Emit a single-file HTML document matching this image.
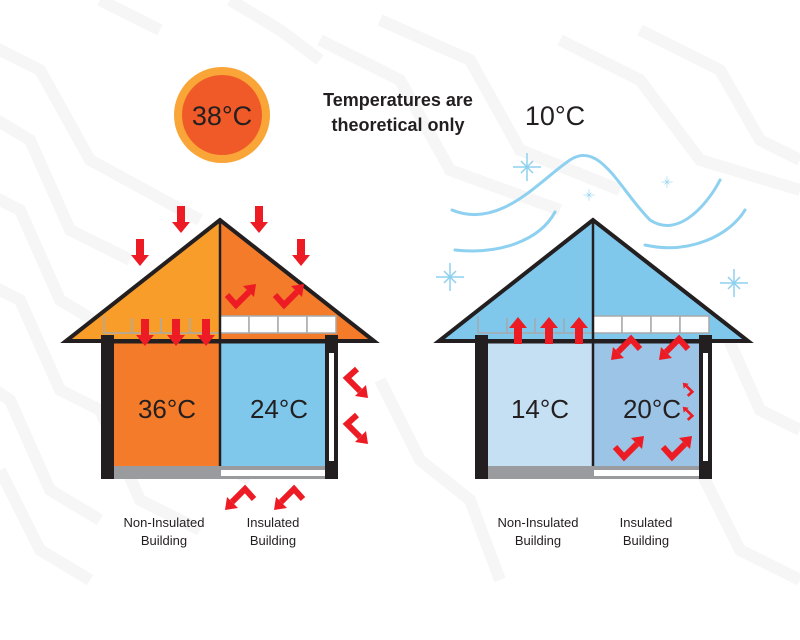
<!DOCTYPE html>
<html><head><meta charset="utf-8"><style>
html,body{margin:0;padding:0;background:#fff}
svg{display:block}
text{font-family:"Liberation Sans",sans-serif}
</style></head><body>
<svg width="800" height="640" viewBox="0 0 800 640" xmlns="http://www.w3.org/2000/svg">
<defs>
<g id="down"><path d="M-4,-16 H4 V0 H9 L0,11 L-9,0 H-4 Z" fill="#ED1C24"/></g>
<g id="up"><path d="M-4,16 H4 V0 H9 L0,-11 L-9,0 H-4 Z" fill="#ED1C24"/></g>
<g id="bent"><polyline points="-13,-5 -4,5 9,-8" fill="none" stroke="#ED1C24" stroke-width="6"/><path d="M3,-14 L16,-16 L14,-3 Z" fill="#ED1C24"/></g>
<g id="spark" stroke="#8ED0F0" stroke-width="1.5"><line x1="-14" y1="0" x2="14" y2="0"/><line x1="0" y1="-14" x2="0" y2="14"/><line x1="-6" y1="-6" x2="6" y2="6"/><line x1="-6" y1="6" x2="6" y2="-6"/></g>
</defs>
<rect width="800" height="640" fill="#fff"/>
<g fill="none" stroke="#f6f6f6" stroke-width="12">
<polyline points="-20,40 40,70 90,160 200,220"/>
<polyline points="-20,110 30,140 70,230 130,260"/>
<polyline points="-20,190 20,210 60,300 110,330 150,420 250,480"/>
<polyline points="-20,280 20,300 60,390 100,410 140,500 200,530"/>
<polyline points="-20,380 10,400 50,490 100,520"/>
<polyline points="320,40 400,80 450,170 560,210"/>
<polyline points="380,20 470,60 520,150 620,190"/>
<polyline points="560,40 640,80 700,160 800,190"/>
<polyline points="640,30 720,70 760,140 800,160"/>
<polyline points="0,470 40,550 90,580"/>
<polyline points="720,320 760,410 800,430"/>
<polyline points="700,470 740,550 800,580"/>
<polyline points="380,380 420,460 470,500 500,580"/>
<polyline points="230,0 280,30 320,60"/>
<polyline points="100,0 160,30"/>
</g>
<rect x="0" y="590" width="800" height="50" fill="#fff"/>

<!-- Sun -->
<circle cx="222" cy="115" r="48" fill="#F9A537"/>
<circle cx="222" cy="115" r="40" fill="#F05A28"/>
<text x="222" y="125" font-size="27" text-anchor="middle" fill="#231F20">38°C</text>
<text x="398" y="106" font-size="18" font-weight="bold" text-anchor="middle" fill="#231F20">Temperatures are</text>
<text x="398" y="131" font-size="18" font-weight="bold" text-anchor="middle" fill="#231F20">theoretical only</text>
<text x="555" y="125" font-size="27" text-anchor="middle" fill="#231F20">10°C</text>

<!-- LEFT HOUSE -->
<polygon points="220,220 66,341 220,341" fill="#F99D2A"/>
<polygon points="220,220 374,341 220,341" fill="#F47B2A"/>
<rect x="114" y="342" width="106" height="124" fill="#F47B2A"/>
<rect x="220" y="342" width="105" height="124" fill="#7FC8EC"/>
<g fill="none" stroke="#A7A9AC" stroke-width="1.5">
<polyline points="104,316 104,333 220,333"/>
<line x1="132" y1="318" x2="132" y2="333"/><line x1="161" y1="318" x2="161" y2="333"/><line x1="190" y1="318" x2="190" y2="333"/>
</g>
<g fill="#fff" stroke="#A7A9AC" stroke-width="1.5">
<rect x="220" y="316" width="29" height="17"/><rect x="249" y="316" width="29" height="17"/><rect x="278" y="316" width="29" height="17"/><rect x="307" y="316" width="29" height="17"/>
</g>
<polygon points="220,220 66,341 374,341" fill="none" stroke="#231F20" stroke-width="4"/>
<line x1="220" y1="220" x2="220" y2="466" stroke="#231F20" stroke-width="2.5"/>
<line x1="101" y1="342" x2="338" y2="342" stroke="#231F20" stroke-width="3"/>
<rect x="101" y="335" width="13" height="144" fill="#231F20"/>
<rect x="325" y="335" width="13" height="144" fill="#231F20"/>
<rect x="329" y="353" width="5" height="108" fill="#fff"/>
<rect x="114" y="466" width="211" height="13" fill="#999B9E"/>
<rect x="221" y="470" width="104" height="6" fill="#fff"/>
<text x="167" y="418" font-size="26" text-anchor="middle" fill="#231F20">36°C</text>
<text x="279" y="418" font-size="26" text-anchor="middle" fill="#231F20">24°C</text>
<use href="#down" x="181" y="222"/><use href="#down" x="259" y="222"/>
<use href="#down" x="140" y="255"/><use href="#down" x="301" y="255"/>
<use href="#down" x="145" y="335"/><use href="#down" x="176" y="335"/><use href="#down" x="206" y="335"/>
<use href="#bent" x="240" y="300"/><use href="#bent" x="288" y="300"/>
<use href="#bent" transform="translate(352,382) rotate(90)"/>
<use href="#bent" transform="translate(352,428) rotate(90)"/>
<use href="#bent" transform="translate(241,494) scale(-1,-1)"/>
<use href="#bent" transform="translate(290,494) scale(-1,-1)"/>
<text x="164" y="527" font-size="13" text-anchor="middle" fill="#231F20">Non-Insulated</text>
<text x="164" y="545" font-size="13" text-anchor="middle" fill="#231F20">Building</text>
<text x="273" y="527" font-size="13" text-anchor="middle" fill="#231F20">Insulated</text>
<text x="273" y="545" font-size="13" text-anchor="middle" fill="#231F20">Building</text>

<!-- RIGHT HOUSE -->
<g fill="none" stroke="#8ED0F0" stroke-width="3" stroke-linecap="round">
<path d="M452,210 C500,230 540,180 570,160 C600,140 620,190 650,220 C680,240 710,200 720,180"/>
<path d="M455,250 C500,255 540,240 555,212"/>
<path d="M645,245 C690,255 730,235 745,210"/>
</g>
<use href="#spark" x="527" y="167"/><use href="#spark" x="450" y="277"/>
<use href="#spark" x="734" y="283"/>
<g transform="translate(589,195) scale(0.4)"><use href="#spark"/></g>
<g transform="translate(667,182) scale(0.4)"><use href="#spark"/></g>
<polygon points="593,220 439,341 748,341" fill="#7FC8EC"/>
<rect x="488" y="342" width="105" height="124" fill="#C5DFF3"/>
<rect x="593" y="342" width="106" height="124" fill="#9CC4E6"/>
<g fill="none" stroke="#A7A9AC" stroke-width="1.5">
<polyline points="478,316 478,333 593,333"/>
<line x1="507" y1="318" x2="507" y2="333"/><line x1="535" y1="318" x2="535" y2="333"/><line x1="564" y1="318" x2="564" y2="333"/>
</g>
<g fill="#fff" stroke="#A7A9AC" stroke-width="1.5">
<rect x="593" y="316" width="29" height="17"/><rect x="622" y="316" width="29" height="17"/><rect x="651" y="316" width="29" height="17"/><rect x="680" y="316" width="29" height="17"/>
</g>
<polygon points="593,220 439,341 748,341" fill="none" stroke="#231F20" stroke-width="4"/>
<line x1="593" y1="220" x2="593" y2="466" stroke="#231F20" stroke-width="2.5"/>
<line x1="475" y1="342" x2="712" y2="342" stroke="#231F20" stroke-width="3"/>
<rect x="475" y="335" width="13" height="144" fill="#231F20"/>
<rect x="699" y="335" width="13" height="144" fill="#231F20"/>
<rect x="703" y="353" width="5" height="108" fill="#fff"/>
<rect x="488" y="466" width="211" height="13" fill="#999B9E"/>
<rect x="594" y="470" width="105" height="6" fill="#fff"/>
<text x="540" y="418" font-size="26" text-anchor="middle" fill="#231F20">14°C</text>
<text x="652" y="418" font-size="26" text-anchor="middle" fill="#231F20">20°C</text>
<use href="#up" x="518" y="328"/><use href="#up" x="549" y="328"/><use href="#up" x="579" y="328"/>
<use href="#bent" transform="translate(627,344) scale(-1,-1)"/>
<use href="#bent" transform="translate(675,344) scale(-1,-1)"/>
<use href="#bent" x="628" y="452"/><use href="#bent" x="676" y="452"/>
<g transform="translate(690,390) scale(0.45) rotate(-90)"><use href="#bent"/></g>
<g transform="translate(690,414) scale(0.45) rotate(-90)"><use href="#bent"/></g>
<text x="538" y="527" font-size="13" text-anchor="middle" fill="#231F20">Non-Insulated</text>
<text x="538" y="545" font-size="13" text-anchor="middle" fill="#231F20">Building</text>
<text x="646" y="527" font-size="13" text-anchor="middle" fill="#231F20">Insulated</text>
<text x="646" y="545" font-size="13" text-anchor="middle" fill="#231F20">Building</text>
</svg>
</body></html>
